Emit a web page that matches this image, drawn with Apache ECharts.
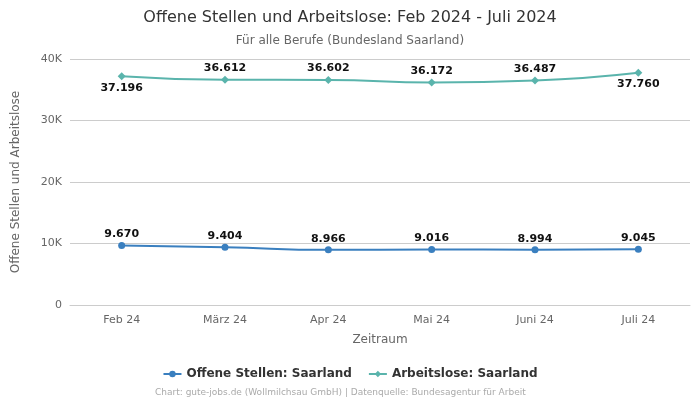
<!DOCTYPE html>
<html><head><meta charset="utf-8">
<script src="https://cdn.jsdelivr.net/npm/echarts@6/dist/echarts.min.js"></script>
<style>html,body{margin:0;padding:0;background:#fff}#c{width:700px;height:400px}</style>
</head><body><div id="c"></div>
<script>
const categories = ['Feb 24','März 24','Apr 24','Mai 24','Juni 24','Juli 24'];
const offeneStellen = [9670, 9404, 8966, 9016, 8994, 9045];
const arbeitslose = [37196, 36612, 36602, 36172, 36487, 37760];
const arbeitsloseLabelPos = ['bottom','top','top','top','top','bottom'];
const yTicks = [0, 10000, 20000, 30000, 40000];

const fmt = v => v.toLocaleString('de-DE');
const font = 'DejaVu Sans';
const chart = echarts.init(document.getElementById('c'), null, {renderer:'canvas'});
chart.setOption({
  animation: false,
  textStyle: {fontFamily: font},
  title: {
    text: 'Offene Stellen und Arbeitslose: Feb 2024 - Juli 2024',
    subtext: 'Für alle Berufe (Bundesland Saarland)',
    left: 'center', top: 5,
    textStyle: {fontFamily: font, fontSize: 16, fontWeight: 'normal', color: '#333'},
    subtextStyle: {fontFamily: font, fontSize: 12, color: '#666'},
    itemGap: 9
  },
  grid: {left: 70, right: 10, top: 59, bottom: 95},
  xAxis: {
    type: 'category', data: categories, boundaryGap: true,
    name: 'Zeitraum', nameLocation: 'middle', nameGap: 29,
    nameTextStyle: {fontFamily: font, fontSize: 12, color: '#666'},
    axisLine: {lineStyle: {color: '#ccc'}},
    axisTick: {show: false},
    axisLabel: {fontFamily: font, fontSize: 11, color: '#666', margin: 10}
  },
  yAxis: {
    type: 'value', min: yTicks[0], max: yTicks[yTicks.length-1], interval: 10000,
    name: 'Offene Stellen und Arbeitslose', nameLocation: 'middle', nameGap: 48,
    nameTextStyle: {fontFamily: font, fontSize: 12, color: '#666'},
    axisLabel: {fontFamily: font, fontSize: 11, color: '#666',
      formatter: v => v === 0 ? '0' : (v/1000) + 'K'},
    splitLine: {lineStyle: {color: '#ccc'}}
  },
  legend: {
    bottom: 15, left: 'center', itemGap: 16, itemWidth: 18, itemHeight: 8,
    textStyle: {fontFamily: font, fontSize: 12, fontWeight: 'bold', color: '#333'},
    data: ['Offene Stellen: Saarland', 'Arbeitslose: Saarland']
  },
  graphic: [{
    type: 'text', left: 155, bottom: 3,
    style: {text: 'Chart: gute-jobs.de (Wollmilchsau GmbH) | Datenquelle: Bundesagentur für Arbeit',
      fontFamily: font, fontSize: 9, fill: '#aaa'}
  }],
  series: [{
    name: 'Offene Stellen: Saarland', type: 'line', smooth: true,
    data: offeneStellen, symbol: 'circle', symbolSize: 7,
    itemStyle: {color: '#3a7fbf'}, lineStyle: {color: '#3a7fbf', width: 2},
    label: {show: true, position: 'top', distance: 2, formatter: p => fmt(p.value),
      fontFamily: font, fontSize: 11, fontWeight: 'bold', color: '#111'}
  }, {
    name: 'Arbeitslose: Saarland', type: 'line', smooth: true,
    data: arbeitslose.map((v,i) => ({value: v, label: {position: arbeitsloseLabelPos[i]}})),
    symbol: 'diamond', symbolSize: 8,
    itemStyle: {color: '#5ab4ac'}, lineStyle: {color: '#5ab4ac', width: 2},
    label: {show: true, position: 'top', distance: 2, formatter: p => fmt(p.value),
      fontFamily: font, fontSize: 11, fontWeight: 'bold', color: '#111'}
  }]
});
</script></body></html>
